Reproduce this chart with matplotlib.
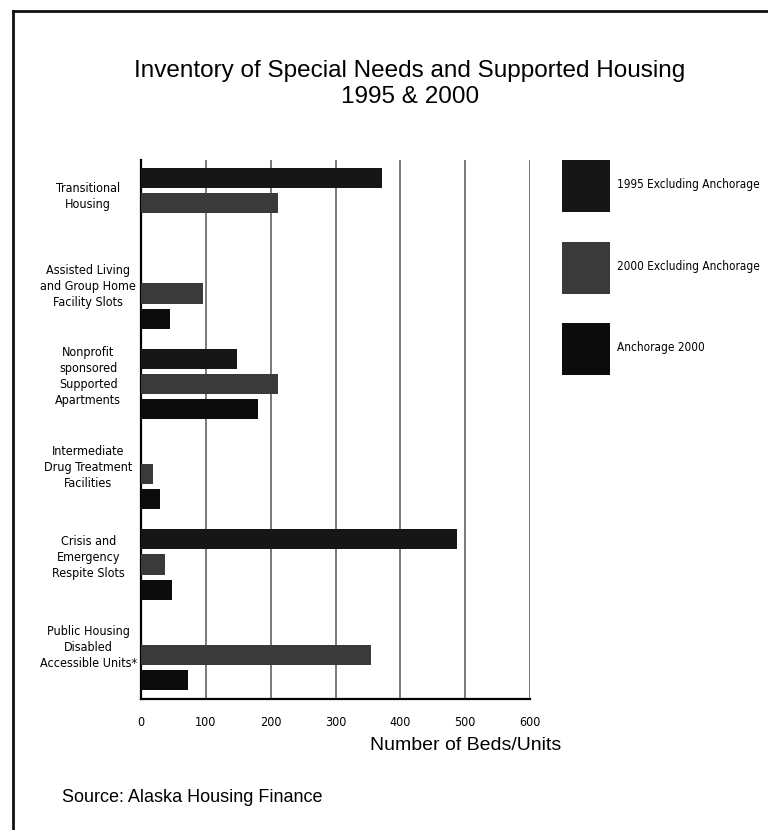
import matplotlib
matplotlib.use("Agg")
import matplotlib.pyplot as plt
from matplotlib.lines import Line2D
import numpy as np

categories = [
    "Transitional\nHousing",
    "Assisted Living\nand Group Home\nFacility Slots",
    "Nonprofit\nsponsored\nSupported\nApartments",
    "Intermediate\nDrug Treatment\nFacilities",
    "Crisis and\nEmergency\nRespite Slots",
    "Public Housing\nDisabled\nAccessible Units*",
]
series_names = ["1995 Excluding Anchorage", "2000 Excluding Anchorage", "Anchorage 2000"]
excl_1995 = [371, 0, 148, 0, 488, 0]
excl_2000 = [212, 95, 212, 18, 37, 355]
anchorage_2000 = [0, 45, 180, 30, 48, 72]
x_ticks = [0, 100, 200, 300, 400, 500, 600]

colors = ["#161616", "#3a3a3a", "#0c0c0c"]
narrow = ["DejaVu Sans"]
plain = ["Liberation Sans", "DejaVu Sans"]

fig = plt.figure(figsize=(7.68, 8.30), dpi=100)
ax = fig.add_axes([141 / 768, 1 - 699 / 830, 389 / 768, 539 / 830])

# three bars per category, one slot each even when a value is zero
group_step = 3.6
group_pos = np.arange(len(categories)) * group_step
for j, vals in enumerate([excl_1995, excl_2000, anchorage_2000]):
    ax.barh(group_pos + j, vals, height=0.8, color=colors[j],
            label=series_names[j], zorder=3)

ax.set_xlim(0, 600)
ax.set_ylim(group_pos[-1] + 2 + 0.76, -0.72)
ax.set_xticks(x_ticks)
ax.set_xticklabels([str(t) for t in x_ticks], family=narrow,
                   fontstretch="condensed", fontsize=9)
ax.tick_params(axis="x", length=0, pad=12)
ax.set_yticks(group_pos + 0.6)
ax.set_yticklabels(categories, family=narrow, fontstretch="condensed",
                   fontsize=9, ha="center", linespacing=1.3)
ax.tick_params(axis="y", length=0, pad=38)

ax.grid(axis="x", color="#7a7a7a", linewidth=1.4, zorder=0)
for side in ["top", "right"]:
    ax.spines[side].set_visible(False)
ax.spines["left"].set_linewidth(1.6)
ax.spines["bottom"].set_linewidth(1.6)

fig.text(466 / 768, 1 - 745 / 830, "Number of Beds/Units", ha="center",
         va="center", family=plain, fontsize=14)
fig.text(410 / 768, 1 - 84 / 830,
         "Inventory of Special Needs and Supported Housing\n1995 & 2000",
         ha="center", va="center", family=plain, fontsize=17.5, linespacing=1.25)
fig.text(62 / 768, 1 - 797 / 830, "Source: Alaska Housing Finance",
         ha="left", va="center", family=plain, fontsize=13)

fig.legend(loc="upper left", bbox_to_anchor=(562 / 768, 1 - 160 / 830),
           frameon=False, borderpad=0, borderaxespad=0,
           handlelength=4.1, handleheight=6.4, labelspacing=2.5,
           handletextpad=0.55,
           prop={"family": narrow, "stretch": "condensed", "size": 8.5})

# frame lines along the left and top edges
fig.add_artist(Line2D([13 / 768, 13 / 768], [0, 1 - 11 / 830], color="#111111",
                      linewidth=2, transform=fig.transFigure))
fig.add_artist(Line2D([13 / 768, 1], [1 - 11 / 830, 1 - 11 / 830],
                      color="#111111", linewidth=2, transform=fig.transFigure))

fig.savefig("out.png", dpi=100)
